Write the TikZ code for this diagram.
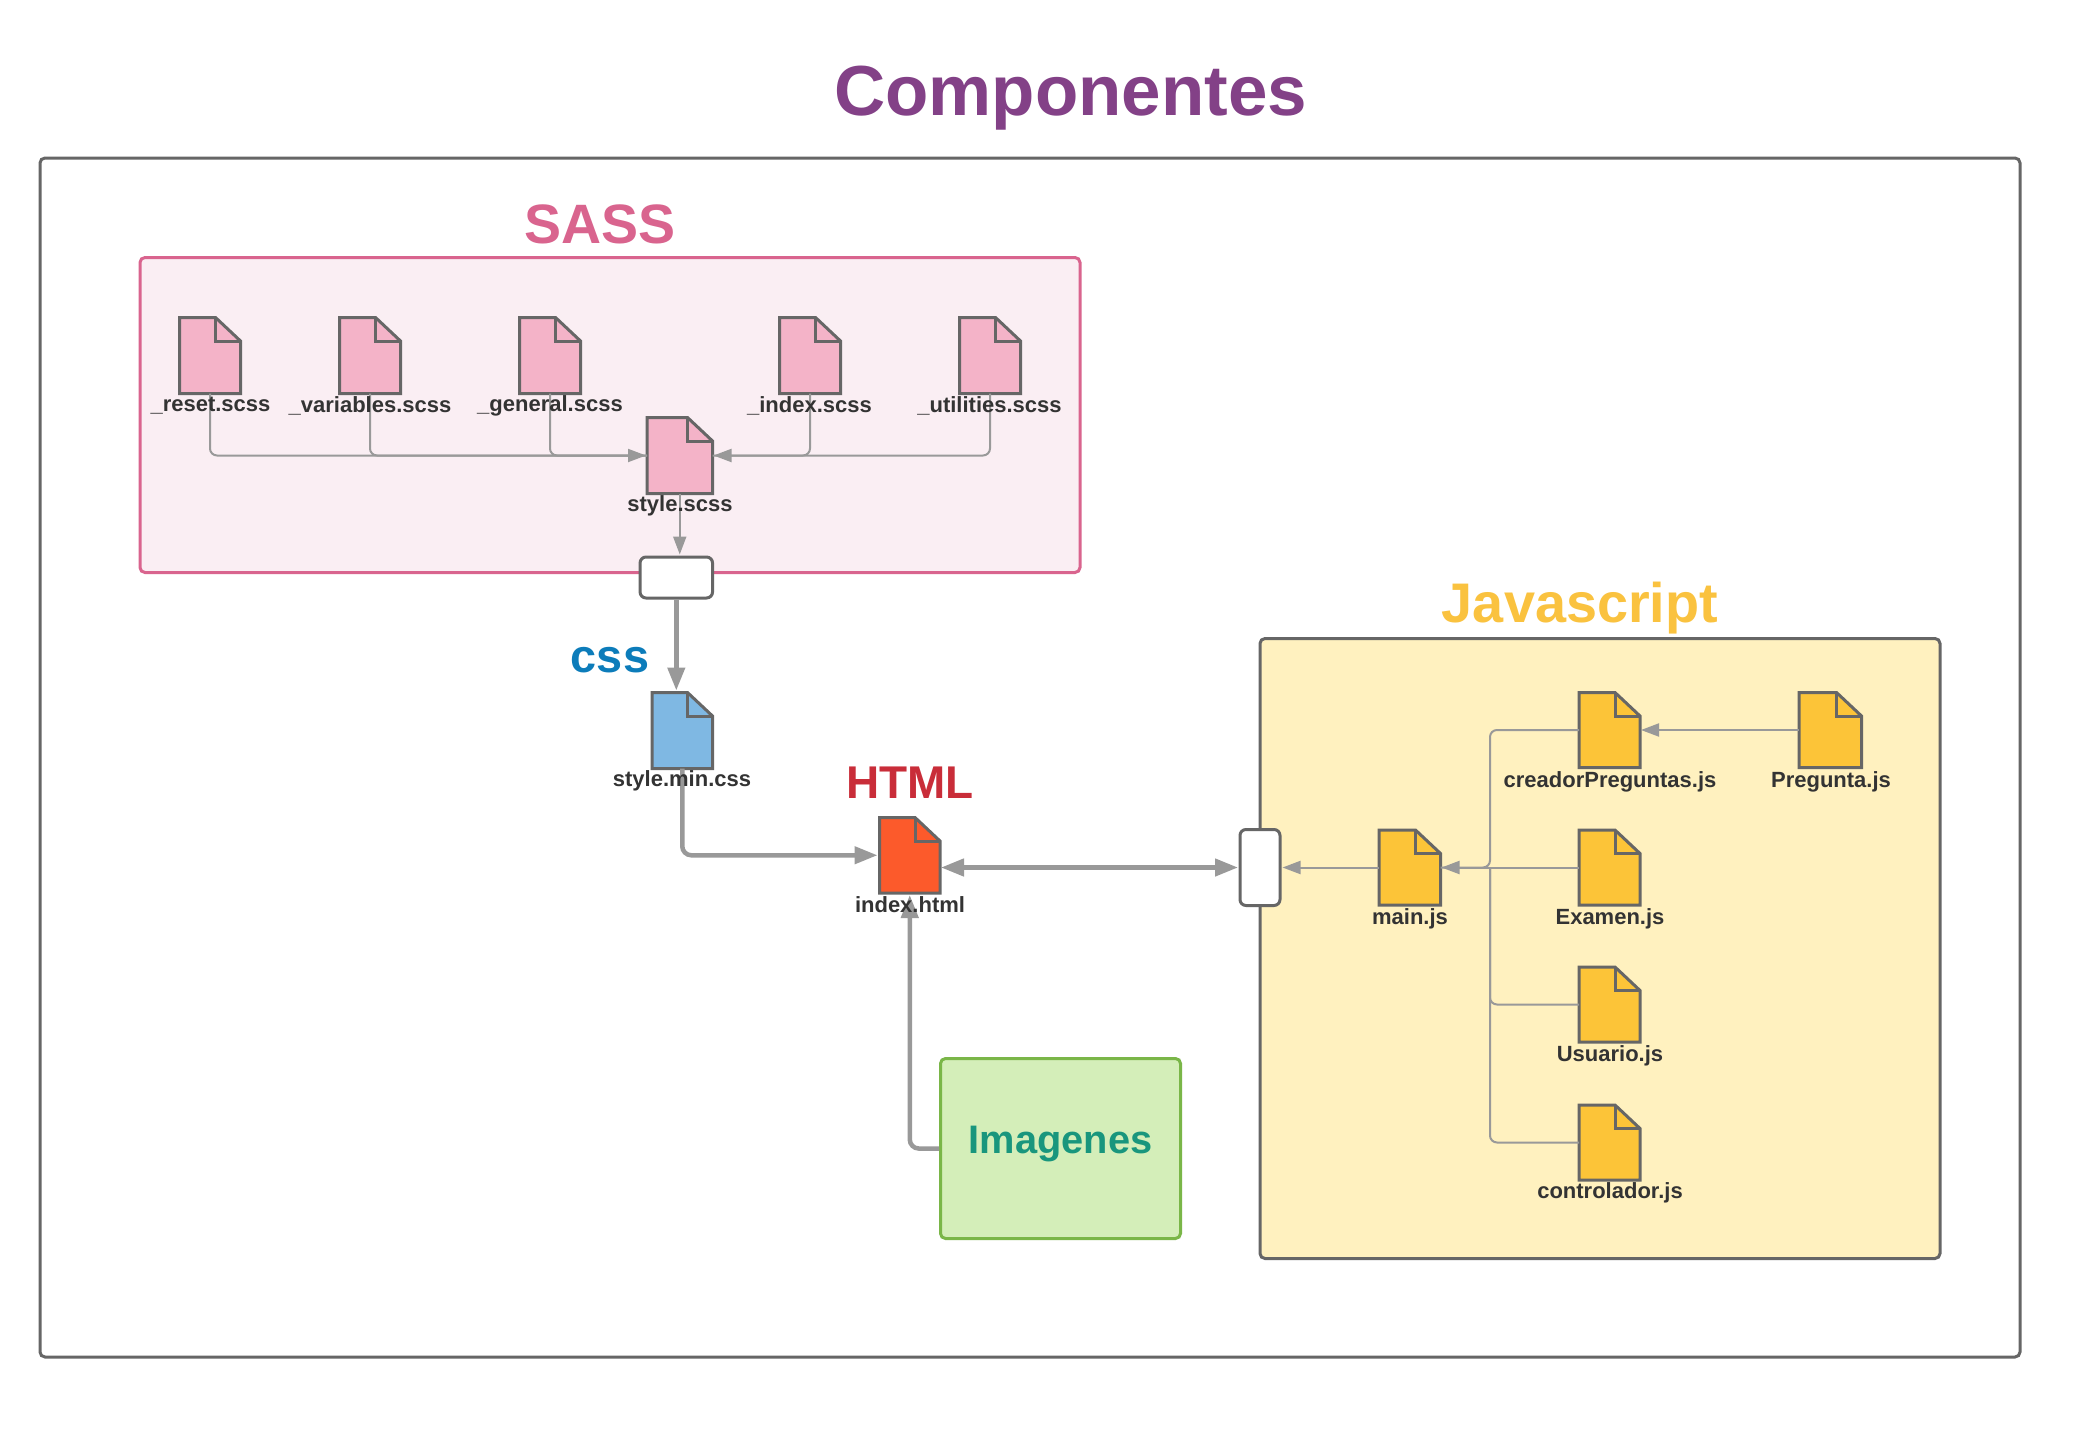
\documentclass[tikz,border=0pt]{standalone}
\usepackage{fontspec}
\setmainfont{Liberation Sans}
\usetikzlibrary{arrows.meta}
\definecolor{framegrey}{HTML}{666666}
\definecolor{linegrey}{HTML}{999999}
\definecolor{txt}{HTML}{333333}
\definecolor{titlepurple}{HTML}{834187}
\definecolor{sassc}{HTML}{D9648E}
\definecolor{sassfill}{HTML}{FAEEF3}
\definecolor{sassfile}{HTML}{F4B3C8}
\definecolor{cssc}{HTML}{0C7CBA}
\definecolor{cssfile}{HTML}{7FB8E3}
\definecolor{htmlc}{HTML}{C92D39}
\definecolor{htmlfile}{HTML}{FC5A2B}
\definecolor{jsc}{HTML}{FAC23F}
\definecolor{jsfill}{HTML}{FFF1BF}
\definecolor{jsfile}{HTML}{FCC438}
\definecolor{imgfill}{HTML}{D4EEB9}
\definecolor{imgc}{HTML}{7AB648}
\definecolor{imgtext}{HTML}{19967D}
\newcommand{\fs}[1]{\fontsize{#1}{#1}\selectfont\bfseries}
\tikzset{
  x=1pt,y=-1pt,
  panel/.style={rounded corners=5pt,line width=3pt},
  portbox/.style={draw=framegrey,fill=white,line width=3pt,rounded corners=6pt,inner sep=0pt},
  flabel/.style={text=txt,font=\fs{22},inner sep=0pt},
  heading/.style={inner sep=0pt},
  thin line/.style={draw=linegrey,line width=2pt,rounded corners=7pt},
  thick line/.style={draw=linegrey,line width=4.5pt,rounded corners=9pt},
  thin tip/.style={-{Triangle[length=18pt,width=13pt]},shorten >=1pt},
  thick tip/.style={-{Triangle[length=23pt,width=17pt]},shorten >=2pt},
  both tip/.style={{Triangle[length=23pt,width=17pt]}-{Triangle[length=23pt,width=17pt]},shorten >=0.5pt,shorten <=1pt},
}
% name, left, top, right, bottom, fill
\newcommand{\filenode}[6]{%
  \node[draw=none,inner sep=0pt,outer sep=0pt,minimum width=#4-#2,minimum height=#5-#3] (#1) at ({(#2+#4)/2},{(#3+#5)/2}) {};
  \draw[draw=framegrey,fill=#6,line width=3pt,line join=miter]
    (#2,#3) -- ({#4-25},#3) -- (#4,{#3+23.5}) -- (#4,#5) -- (#2,#5) -- cycle;
  \draw[draw=framegrey,line width=3pt,line join=miter]
    ({#4-25},#3) -- ({#4-25},{#3+23.5}) -- (#4,{#3+23.5});
}
\begin{document}
\begin{tikzpicture}
\useasboundingbox (0,0) rectangle (2081,1440);
\fill[white] (0,0) rectangle (2081,1440);
% frame and title
\draw[panel,draw=framegrey,fill=white] (40,158) rectangle (2020,1357);
\node[heading,text=titlepurple,font=\fs{70.9},anchor=base] (title) at (1070.5,115) {Componentes};
% containers
\node[panel,draw=sassc,fill=sassfill,minimum width=940pt,minimum height=315pt,inner sep=0pt,anchor=north west] (sassbox) at (138.5,256) {};
\node[heading,text=sassc,font=\fs{55.5},anchor=base] (sasstitle) at (600,243) {SASS};
\node[panel,draw=framegrey,fill=jsfill,minimum width=680pt,minimum height=620pt,inner sep=0pt,anchor=north west] (jsbox) at (1258.5,637) {};
\node[heading,text=jsc,font=\fs{55.8},anchor=base] (jstitle) at (1580,622.5) {Javascript};
\node[panel,draw=imgc,fill=imgfill,minimum width=240pt,minimum height=180pt,inner sep=0pt,anchor=north west] (imgbox) at (939,1057) {};
\node[heading,text=imgtext,font=\fs{39.8},anchor=center] (imgtitle) at ([yshift=4pt]imgbox.center) {Imagenes};
% files
\filenode{reset}{179.5}{317.5}{240.5}{393.5}{sassfile}
\filenode{variables}{339.5}{317.5}{400.5}{393.5}{sassfile}
\filenode{general}{519.5}{317.5}{580.5}{393.5}{sassfile}
\filenode{index}{779.5}{317.5}{840.5}{393.5}{sassfile}
\filenode{utilities}{959.5}{317.5}{1020.5}{393.5}{sassfile}
\filenode{style}{647}{417.5}{712.5}{493.5}{sassfile}
\filenode{cssf}{652}{692.5}{712.5}{768.5}{cssfile}
\filenode{htmlf}{879.5}{817.5}{940}{893}{htmlfile}
\filenode{mainf}{1379}{830}{1440.5}{905}{jsfile}
\filenode{creador}{1579}{692.5}{1640}{767.5}{jsfile}
\filenode{pregunta}{1799}{692.5}{1861.5}{767.5}{jsfile}
\filenode{examen}{1579}{830}{1640}{905}{jsfile}
\filenode{usuario}{1579}{967}{1640}{1042}{jsfile}
\filenode{controlador}{1579}{1105}{1640}{1180}{jsfile}
% port boxes
\node[portbox,minimum width=72.5pt,minimum height=41pt] (sassport) at (676.3,577.5) {};
\node[portbox,minimum width=40pt,minimum height=76pt] (jsport) at (1260,867.5) {};
% SASS connectors
\draw[thin line,thin tip] (reset.south) |- (style.west);
\draw[thin line] (variables.south) |- (style.west);
\draw[thin line] (general.south) |- (style.west);
\draw[thin line,thin tip] (utilities.south) |- (style.east);
\draw[thin line] (index.south) |- (style.east);
\draw[thin line,thin tip] (style.south) -- (sassport.north-|style.south);
% main thick connectors
\draw[thick line,thick tip] (sassport.south) -- (sassport.south|-cssf.north);
\draw[thick line,thick tip] (cssf.south) |- (htmlf.west);
\draw[thick line,both tip] (htmlf.east|-jsport.west) -- (jsport.west);
\draw[thick line,thick tip] (imgbox.west) -| (htmlf.south);
% JS connectors
\coordinate (trunk) at (1490,0);
\draw[thin line,thin tip] (pregunta.west) -- (creador.east);
\draw[thin line,thin tip] (mainf.west) -- (jsport.east|-mainf.west);
\draw[thin line,thin tip] (examen.west) -- (mainf.east);
\draw[thin line] (creador.west) -| (trunk|-examen.west) -- (mainf.east);
\draw[thin line] (controlador.west) -| (trunk|-examen.west);
\draw[thin line] (usuario.west) -| (trunk|-examen.west);
% labels
\node[flabel] (l1) at (210.5,405.5) {\_reset.scss};
\node[flabel] (l2) at (370,405.5) {\_variables.scss};
\node[flabel] (l3) at (550,405.5) {\_general.scss};
\node[flabel] (l4) at (809.5,405.5) {\_index.scss};
\node[flabel] (l5) at (989.5,405.5) {\_utilities.scss};
\node[flabel] (l6) at (680,505.5) {style.scss};
\node[flabel] (l7) at (682,780.5) {style.min.css};
\node[flabel] (l8) at (910,904.5) {index.html};
\node[flabel] (l9) at (1410,919) {main.js};
\node[flabel] (l10) at (1610,781.5) {creadorPreguntas.js};
\node[flabel] (l11) at (1831,781.5) {Pregunta.js};
\node[flabel] (l12) at (1610,919) {Examen.js};
\node[flabel] (l13) at (1610,1056) {Usuario.js};
\node[flabel] (l14) at (1610,1193) {controlador.js};
\node[heading,text=cssc,font=\fs{46.8}] (csstitle) at (610,660) {css};
\node[heading,text=htmlc,font=\fs{45.9},anchor=base] (htmltitle) at (910,798) {HTML};
\end{tikzpicture}
\end{document}
